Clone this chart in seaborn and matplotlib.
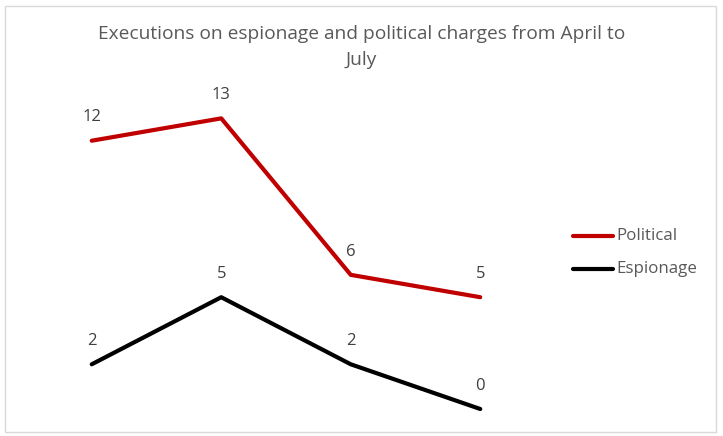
import pandas as pd
import matplotlib.pyplot as plt
import seaborn as sns
from matplotlib.patches import Rectangle

months = ["April", "May", "June", "July"]
political = [12, 13, 6, 5]
espionage = [2, 5, 2, 0]

sns.set_style("white")
plt.rcParams['font.family'] = ['Open Sans', 'DejaVu Sans']

df = pd.DataFrame({"Month": months * 2,
                   "Executions": political + espionage,
                   "Charge": ["Political"] * 4 + ["Espionage"] * 4})
df["pos"] = list(range(4)) * 2

fig = plt.figure(figsize=(7.23, 4.36), dpi=100)
ax = fig.add_axes([27 / 723, 27 / 436, 518 / 723, 313 / 436])
sns.lineplot(data=df, x="pos", y="Executions", hue="Charge",
             palette={"Political": "#C00000", "Espionage": "#000000"},
             linewidth=3, ax=ax, legend=False)
for ln in ax.lines:
    ln.set_clip_on(False)
ax.set_xlim(-0.5, 3.5)
ax.set_ylim(0, 14)
ax.axis('off')

for vals in (political, espionage):
    for i, v in enumerate(vals):
        ax.annotate(str(v), (i, v), xytext=(0, 11), textcoords='offset points',
                    ha='center', va='bottom', fontsize=12, color='#404040')

# legend
for y, lab, c in [(236, "Political", "#C00000"), (269, "Espionage", "#000000")]:
    fy = 1 - y / 436
    fig.add_artist(plt.Line2D([573 / 723, 613 / 723], [fy, fy], color=c,
                              linewidth=3, solid_capstyle='round'))
    fig.text(616 / 723, fy, lab, ha='left', va='center', fontsize=12.2,
             color='#595959')

fig.text(0.5, 1 - 34 / 436, "Executions on espionage and political charges from April to",
         ha='center', va='center', fontsize=13.8, color='#595959')
fig.text(0.5, 1 - 60 / 436, "July", ha='center', va='center', fontsize=13.8,
         color='#595959')

fig.add_artist(Rectangle((5 / 723, 4 / 436), 711 / 723, 426 / 436,
                         transform=fig.transFigure, fill=False,
                         edgecolor='#D9D9D9', linewidth=1))

fig.savefig("out.png", dpi=100)
